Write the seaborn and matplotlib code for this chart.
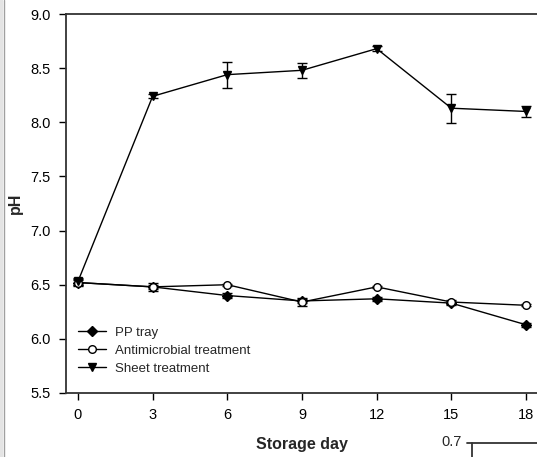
import numpy as np
import pandas as pd
import seaborn as sns
import matplotlib.pyplot as plt
from matplotlib.patches import Rectangle
from matplotlib.lines import Line2D

days = [0, 3, 6, 9, 12, 15, 18]

pp_tray = [6.52, 6.48, 6.40, 6.35, 6.37, 6.33, 6.13]
pp_tray_err = [0.03, 0.02, 0.02, 0.02, 0.02, 0.02, 0.02]

antimicrobial = [6.52, 6.48, 6.50, 6.34, 6.48, 6.34, 6.31]
antimicrobial_err = [0.02, 0.04, 0.01, 0.04, 0.01, 0.02, 0.01]

sheet = [6.53, 8.24, 8.44, 8.48, 8.68, 8.13, 8.10]
sheet_err = [0.03, 0.02, 0.12, 0.07, 0.02, 0.135, 0.05]

series = [
    ("PP tray", pp_tray, pp_tray_err, "D", "black"),
    ("Antimicrobial treatment", antimicrobial, antimicrobial_err, "o", "white"),
    ("Sheet treatment", sheet, sheet_err, "v", "black"),
]

sns.set_style("ticks")
plt.rcParams["font.family"] = ["Liberation Sans", "DejaVu Sans"]

fig = plt.figure(figsize=(5.37, 4.57), dpi=100)
ax = fig.add_axes([66 / 537, 64 / 457, (537 - 66) / 537, 379 / 457])

for name, vals, err, mk, fc in series:
    df = pd.DataFrame({"day": days, "pH": vals})
    ax.errorbar(days, vals, yerr=err, fmt="none", ecolor="black",
                elinewidth=1, capsize=3.5, capthick=1, zorder=2)
    sns.lineplot(data=df, x="day", y="pH", ax=ax, color="black", lw=1,
                 marker=mk, markersize=5.5 if mk != "D" else 5,
                 markerfacecolor=fc, markeredgecolor="black",
                 markeredgewidth=1, label=name, zorder=3)

ax.set_xlim(-0.48, 18.44)
ax.set_ylim(5.5, 9.0)
ax.set_xticks(days)
ax.set_yticks([5.5, 6.0, 6.5, 7.0, 7.5, 8.0, 8.5, 9.0])
ax.set_yticklabels(["5.5", "6.0", "6.5", "7.0", "7.5", "8.0", "8.5", "9.0"])
ax.tick_params(axis="both", direction="out", length=5, width=1,
               labelsize=10.5, colors="black", pad=6)
for side in ["left", "bottom", "top"]:
    ax.spines[side].set_linewidth(1.3)
    ax.spines[side].set_color("#333333")
ax.spines["right"].set_visible(False)

ax.set_xlabel("")
ax.set_ylabel("")
fig.text(15 / 537, 1 - 203 / 457, "pH", rotation=90, fontsize=11.5,
         fontweight="bold", ha="center", va="center")
fig.text(302 / 537, 1 - 445 / 457, "Storage day", fontsize=11.5,
         fontweight="bold", ha="center", va="center")

leg = ax.legend(loc="center left", bbox_to_anchor=(0.0142, 0.111), frameon=False,
                fontsize=9.5, handlelength=2.1, handletextpad=0.7,
                labelspacing=0.44, borderaxespad=0.0)

# left window border and fragment of the neighbouring chart
fig.patches.append(Rectangle((0, 0), 3 / 537, 1, transform=fig.transFigure,
                             facecolor="#e4e4e4", edgecolor="none"))
fig.lines.append(Line2D([3.5 / 537, 3.5 / 537], [0, 1], transform=fig.transFigure,
                        color="#a0a0a0", lw=1))
fig.lines.append(Line2D([467 / 537, 1], [1 - 443 / 457, 1 - 443 / 457],
                        transform=fig.transFigure, color="#333333", lw=1.3))
fig.lines.append(Line2D([472 / 537, 472 / 537], [0, 1 - 443 / 457],
                        transform=fig.transFigure, color="#333333", lw=1.3))
fig.text(452 / 537, 1 - 442 / 457, "0.7", fontsize=10.5, ha="center", va="center")

fig.savefig("out.png", dpi=100)
